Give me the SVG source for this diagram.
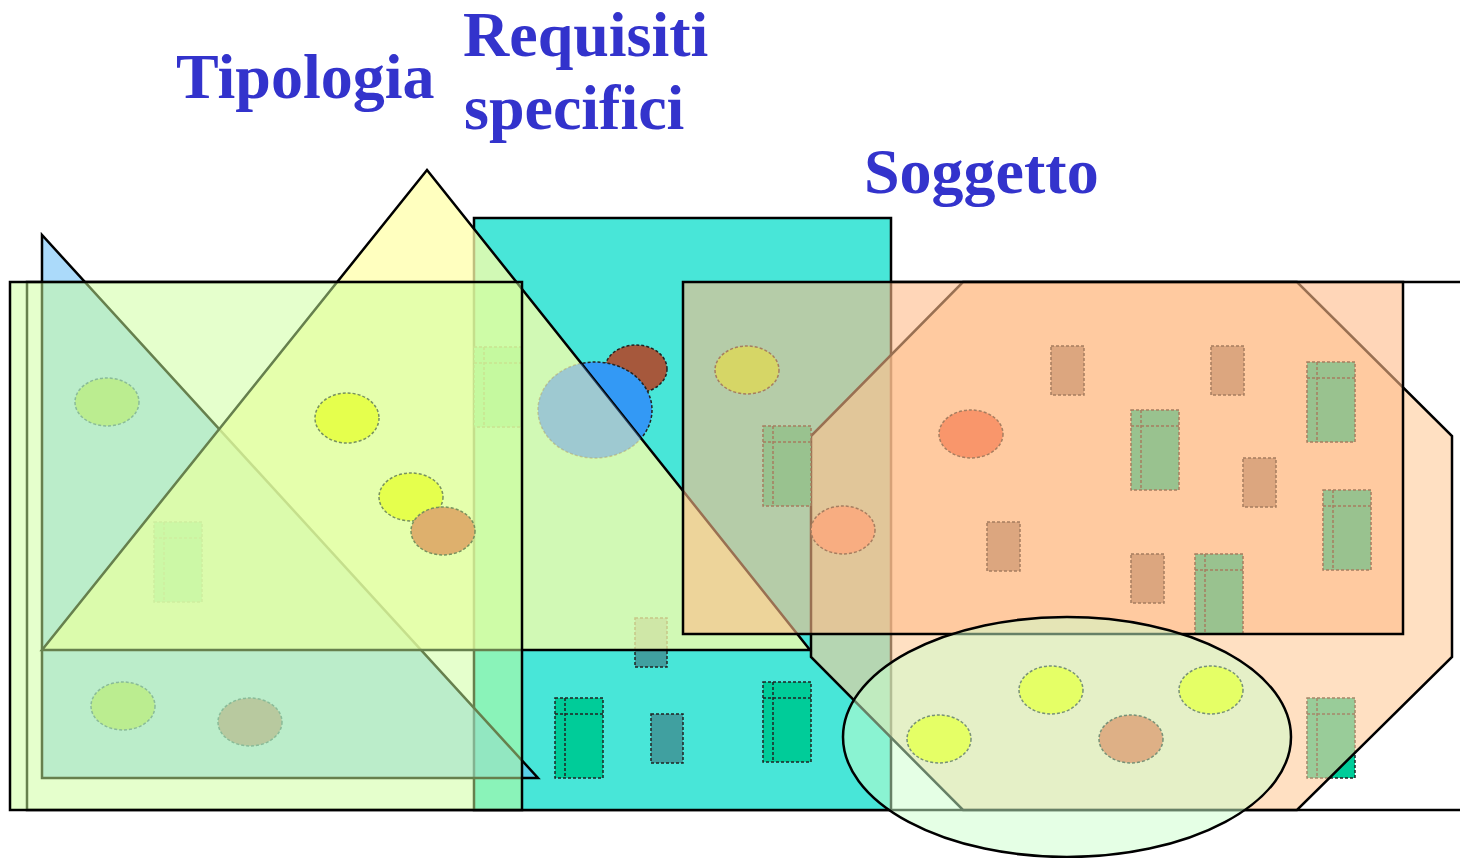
<svg xmlns="http://www.w3.org/2000/svg" xmlns:xlink="http://www.w3.org/1999/xlink" width="1460" height="858" viewBox="0 0 1460 858">
  <style>
    .main { stroke:#000; stroke-width:2.5; stroke-linejoin:miter; }
    .item { stroke:#222; stroke-width:1.5; stroke-dasharray:3 2; }
    .inner { stroke:#222; stroke-width:1.5; stroke-dasharray:3 2; fill:none; }
    .teal { fill:#00cc99; }
    .tan { fill:#a88870; }
    .gteal { fill:#40a0a0; }
    .yel { fill:#ffff00; }
    .red { fill:#f06040; }
    .title { font-family:"Liberation Serif","Times New Roman",serif; font-weight:bold; font-size:64px; fill:#3333cc; }
  </style>
  <defs>
    <g id="door">
      <rect x="0" y="0" width="48" height="80" class="item teal"/>
      <path d="M0 16H48M10 0V80" class="inner"/>
    </g>
    <rect id="tanr" x="0" y="0" width="33" height="49" class="item tan"/>
    <rect id="grr" x="0" y="0" width="32" height="49" class="item gteal"/>
    <clipPath id="yellowClip">
      <polygon points="427,170 42,650 810,650"/>
    </clipPath>
  </defs>

  <rect width="1460" height="858" fill="#fff"/>

  <!-- background frame -->
  <g id="frame">
    <rect x="27" y="282" width="1436" height="528" fill="#fff" class="main" stroke-width="2"/>
  </g>

  <!-- Requisiti specifici: cyan block -->
  <g id="requisiti">
    <rect x="474" y="218" width="417" height="592" fill="#48e6d8" class="main"/>
  </g>

  <!-- items lying under the triangles -->
  <g id="items-under-triangles">
    <ellipse cx="107" cy="402" rx="32" ry="24" class="item yel"/>
    <ellipse cx="123" cy="706" rx="32" ry="24" class="item yel"/>
    <ellipse cx="250" cy="722" rx="32" ry="24" class="item red"/>
    <use xlink:href="#door" x="154" y="522"/>
    <use xlink:href="#door" x="474" y="347"/>
    <ellipse cx="636" cy="369" rx="31" ry="24" fill="#a6583c" class="item"/>
    <ellipse cx="595" cy="410" rx="57" ry="48" fill="#3399f5" class="item"/>
    <use xlink:href="#grr" x="635" y="618"/>
  </g>

  <g id="items-cyan">
    <use xlink:href="#door" x="555" y="698"/>
    <use xlink:href="#door" x="763" y="682"/>
    <use xlink:href="#grr" x="651" y="714"/>
  </g>

  <!-- Tipologia: triangles -->
  <g id="tipologia-triangles">
    <polygon points="42,235 42,778 538,778" fill="#66bbf5" fill-opacity="0.55" class="main"/>
    <polygon points="427,170 42,650 810,650" fill="#ffffaa" fill-opacity="0.75" class="main"/>
  </g>

  <g id="items-tipologia">
    <ellipse cx="595" cy="410" rx="57" ry="48" fill="#5aa0f0" fill-opacity="0.4" clip-path="url(#yellowClip)"/>
    <ellipse cx="347" cy="418" rx="32" ry="25" class="item yel"/>
    <ellipse cx="411" cy="497" rx="32" ry="24" class="item yel"/>
    <ellipse cx="443" cy="531" rx="32" ry="24" class="item red"/>
  </g>

  <!-- Tipologia: green block -->
  <g id="tipologia">
    <rect x="10" y="282" width="512" height="528" fill="#ccff99" fill-opacity="0.5" class="main"/>
  </g>

  <!-- Soggetto -->
  <g id="items-octagon">
    <use xlink:href="#door" x="1307" y="698"/>
  </g>
  <g id="soggetto-octagon">
    <polygon points="963,282 1297,282 1452,436 1452,657 1297,810 963,810 811,657 811,436" fill="#ffcc99" fill-opacity="0.6" class="main"/>
  </g>
  <g id="items-soggetto">
    <ellipse cx="747" cy="370" rx="32" ry="24" fill="#99ff33" class="item"/>
    <use xlink:href="#door" x="763" y="426"/>
    <ellipse cx="843" cy="530" rx="32" ry="24" fill="#ee9977" class="item"/>
    <ellipse cx="971" cy="434" rx="32" ry="24" class="item red"/>
    <use xlink:href="#tanr" x="1051" y="346"/>
    <use xlink:href="#tanr" x="1211" y="346"/>
    <use xlink:href="#tanr" x="1243" y="458"/>
    <use xlink:href="#tanr" x="987" y="522"/>
    <use xlink:href="#tanr" x="1131" y="554"/>
    <use xlink:href="#door" x="1131" y="410"/>
    <use xlink:href="#door" x="1307" y="362"/>
    <use xlink:href="#door" x="1323" y="490"/>
    <use xlink:href="#door" x="1195" y="554"/>
  </g>
  <g id="soggetto-rect">
    <rect x="683" y="282" width="720" height="352" fill="#ffbb88" fill-opacity="0.6" class="main"/>
  </g>

  <!-- selection ellipse -->
  <g id="items-ellipse">
    <ellipse cx="939" cy="739" rx="32" ry="24" class="item yel"/>
    <ellipse cx="1051" cy="690" rx="32" ry="24" class="item yel"/>
    <ellipse cx="1131" cy="739" rx="32" ry="24" class="item red"/>
    <ellipse cx="1211" cy="690" rx="32" ry="24" class="item yel"/>
  </g>
  <g id="selection">
    <ellipse cx="1067" cy="737" rx="224" ry="120" fill="#ccffcc" fill-opacity="0.5" class="main"/>
  </g>

  <!-- titles -->
  <g id="labels">
    <text x="176" y="98" class="title">Tipologia</text>
    <text x="463" y="56" class="title">Requisiti</text>
    <text x="464" y="129" class="title">specifici</text>
    <text x="864" y="193" class="title">Soggetto</text>
  </g>
</svg>
